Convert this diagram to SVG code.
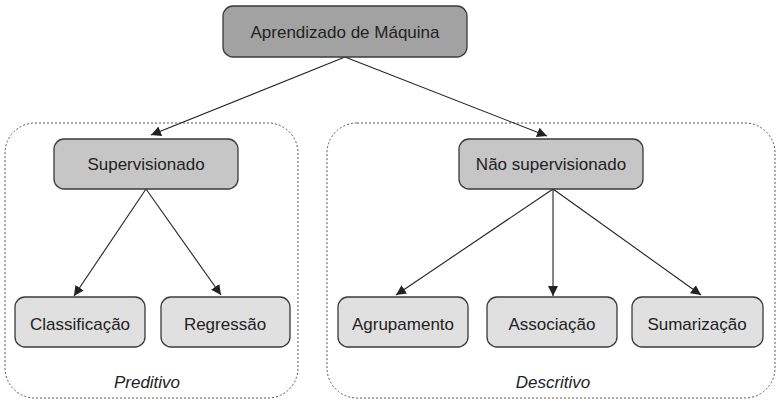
<svg xmlns="http://www.w3.org/2000/svg" width="778" height="404" viewBox="0 0 778 404">
<defs>
<style>
.box{stroke:#3a3a3a;stroke-width:1.3}
.root{fill:#a2a2a2}
.mid{fill:#c6c6c6}
.leaf{fill:#e0e0e0}
.grp{fill:none;stroke:#555;stroke-width:1;stroke-dasharray:2 2}
.t{font-family:"Liberation Sans",Arial,sans-serif;font-size:17px;fill:#222;text-anchor:middle}
.it{font-family:"Liberation Sans",Arial,sans-serif;font-size:17px;fill:#222;text-anchor:middle;font-style:italic}
.c{stroke:#222;stroke-width:1.1;fill:none;marker-end:url(#ah)}
</style>
<marker id="ah" viewBox="0 0 10 10" refX="10" refY="5" markerWidth="10" markerHeight="10" markerUnits="userSpaceOnUse" orient="auto">
<path d="M0,0 L10,5 L0,10 z" fill="#222"/>
</marker>
</defs>
<rect width="778" height="404" fill="#fff"/>
<g id="grupo-preditivo">
<rect class="grp" x="5" y="123" width="293" height="275" rx="30"/>
<text class="it" x="147" y="388">Preditivo</text>
</g>
<g id="grupo-descritivo">
<rect class="grp" x="327" y="123" width="448" height="275" rx="30"/>
<text class="it" x="553" y="388">Descritivo</text>
</g>
<g id="connectors">
<line class="c" x1="345" y1="57" x2="151" y2="135"/>
<line class="c" x1="345" y1="57" x2="547" y2="136"/>
<line class="c" x1="146" y1="189" x2="74" y2="296"/>
<line class="c" x1="146" y1="189" x2="221" y2="295"/>
<line class="c" x1="553" y1="189" x2="396" y2="295"/>
<line class="c" x1="553" y1="189" x2="553" y2="296"/>
<line class="c" x1="553" y1="189" x2="701" y2="295"/>
</g>
<g id="aprendizado">
<rect class="box root" x="223" y="6" width="244" height="51" rx="10"/>
<text class="t" x="345" y="38">Aprendizado de Máquina</text>
</g>
<g id="supervisionado">
<rect class="box mid" x="54" y="139" width="184" height="50" rx="10"/>
<text class="t" x="146" y="170">Supervisionado</text>
</g>
<g id="nao-supervisionado">
<rect class="box mid" x="459" y="139" width="184" height="50" rx="10"/>
<text class="t" x="551" y="170">Não supervisionado</text>
</g>
<g id="classificacao">
<rect class="box leaf" x="15" y="297" width="130" height="50" rx="10"/>
<text class="t" x="80" y="330">Classificação</text>
</g>
<g id="regressao">
<rect class="box leaf" x="161" y="297" width="129" height="50" rx="10"/>
<text class="t" x="225" y="330">Regressão</text>
</g>
<g id="agrupamento">
<rect class="box leaf" x="338" y="297" width="130" height="50" rx="10"/>
<text class="t" x="403" y="330">Agrupamento</text>
</g>
<g id="associacao">
<rect class="box leaf" x="487" y="297" width="130" height="50" rx="10"/>
<text class="t" x="552" y="330">Associação</text>
</g>
<g id="sumarizacao">
<rect class="box leaf" x="632" y="297" width="131" height="50" rx="10"/>
<text class="t" x="697" y="330">Sumarização</text>
</g>
</svg>
